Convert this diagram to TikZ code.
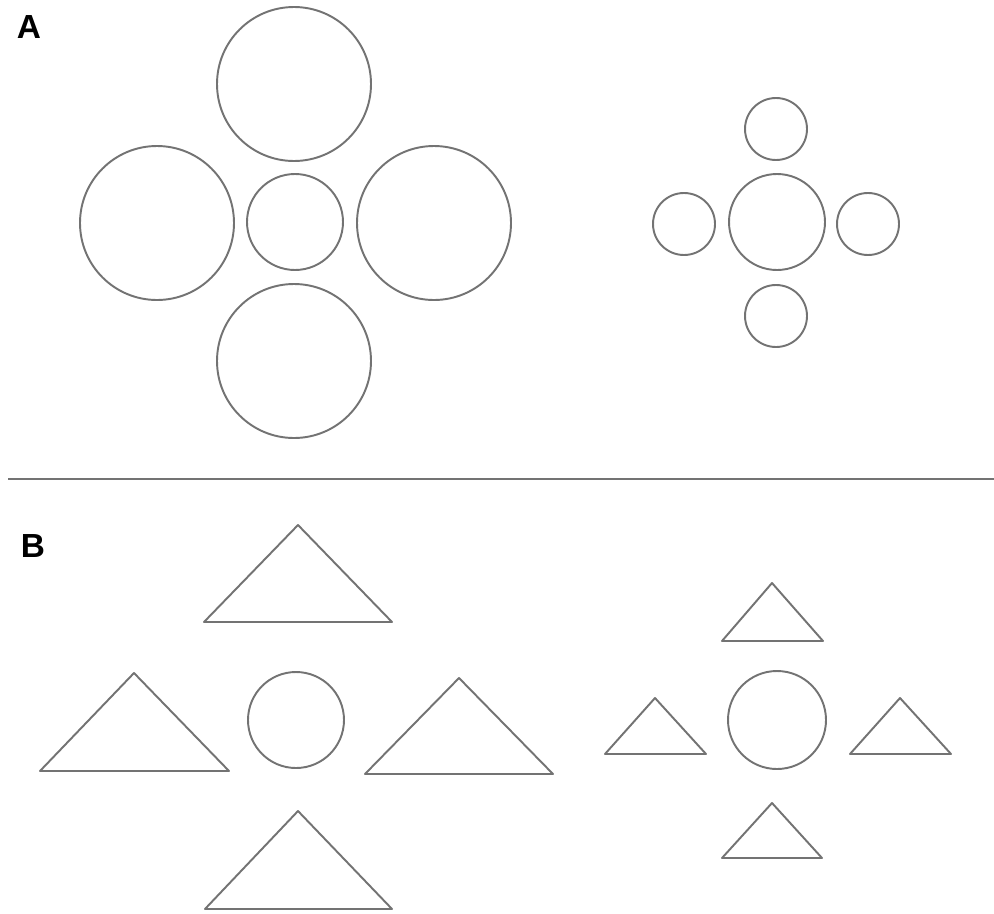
\documentclass[tikz,border=0pt]{standalone}
\usepackage{fontspec}
\setmainfont{Liberation Sans}
\begin{document}
\begin{tikzpicture}[x=0.02cm, y=-0.02cm]

        % Stile globale per le forme
        \tikzset{forma/.style={draw=black!55, line width=1.1pt, line join=round},
                 etichetta/.style={font=\fontsize{19}{19}\selectfont\bfseries, inner sep=0pt}}

        % Area della figura (994 x 913)
        \useasboundingbox (0,0) rectangle (994,913);

        % Lettere dei pannelli
        \node[etichetta] (labelA) at (29,27) {A};
        \node[etichetta] (labelB) at (33,546) {B};

        % Pannello A: cerchi grandi attorno al cerchio centrale
        \draw[forma] (294,84) circle[radius=77];
        \draw[forma] (157,223) circle[radius=77];
        \draw[forma] (295,222) circle[radius=48];
        \draw[forma] (434,223) circle[radius=77];
        \draw[forma] (294,361) circle[radius=77];

        % Pannello A: cerchi piccoli attorno al cerchio centrale
        \draw[forma] (776,129) circle[radius=31];
        \draw[forma] (684,224) circle[radius=31];
        \draw[forma] (777,222) circle[radius=48];
        \draw[forma] (868,224) circle[radius=31];
        \draw[forma] (776,316) circle[radius=31];

        % Linea di separazione
        \draw[draw=black!55, line width=1.1pt] (8,479) -- (994,479);

        % Pannello B: triangoli grandi
        \draw[forma] (204,622) -- (298,525) -- (392,622) -- cycle;
        \draw[forma] (40,771) -- (134,673) -- (229,771) -- cycle;
        \draw[forma] (296,720) circle[radius=48];
        \draw[forma] (365,774) -- (459,678) -- (553,774) -- cycle;
        \draw[forma] (205,909) -- (298,811) -- (392,909) -- cycle;

        % Pannello B: triangoli piccoli
        \draw[forma] (722,641) -- (772,583) -- (823,641) -- cycle;
        \draw[forma] (605,754) -- (655,698) -- (706,754) -- cycle;
        \draw[forma] (777,720) circle[radius=49];
        \draw[forma] (850,754) -- (900,698) -- (951,754) -- cycle;
        \draw[forma] (722,858) -- (772,803) -- (822,858) -- cycle;

\end{tikzpicture}
\end{document}
